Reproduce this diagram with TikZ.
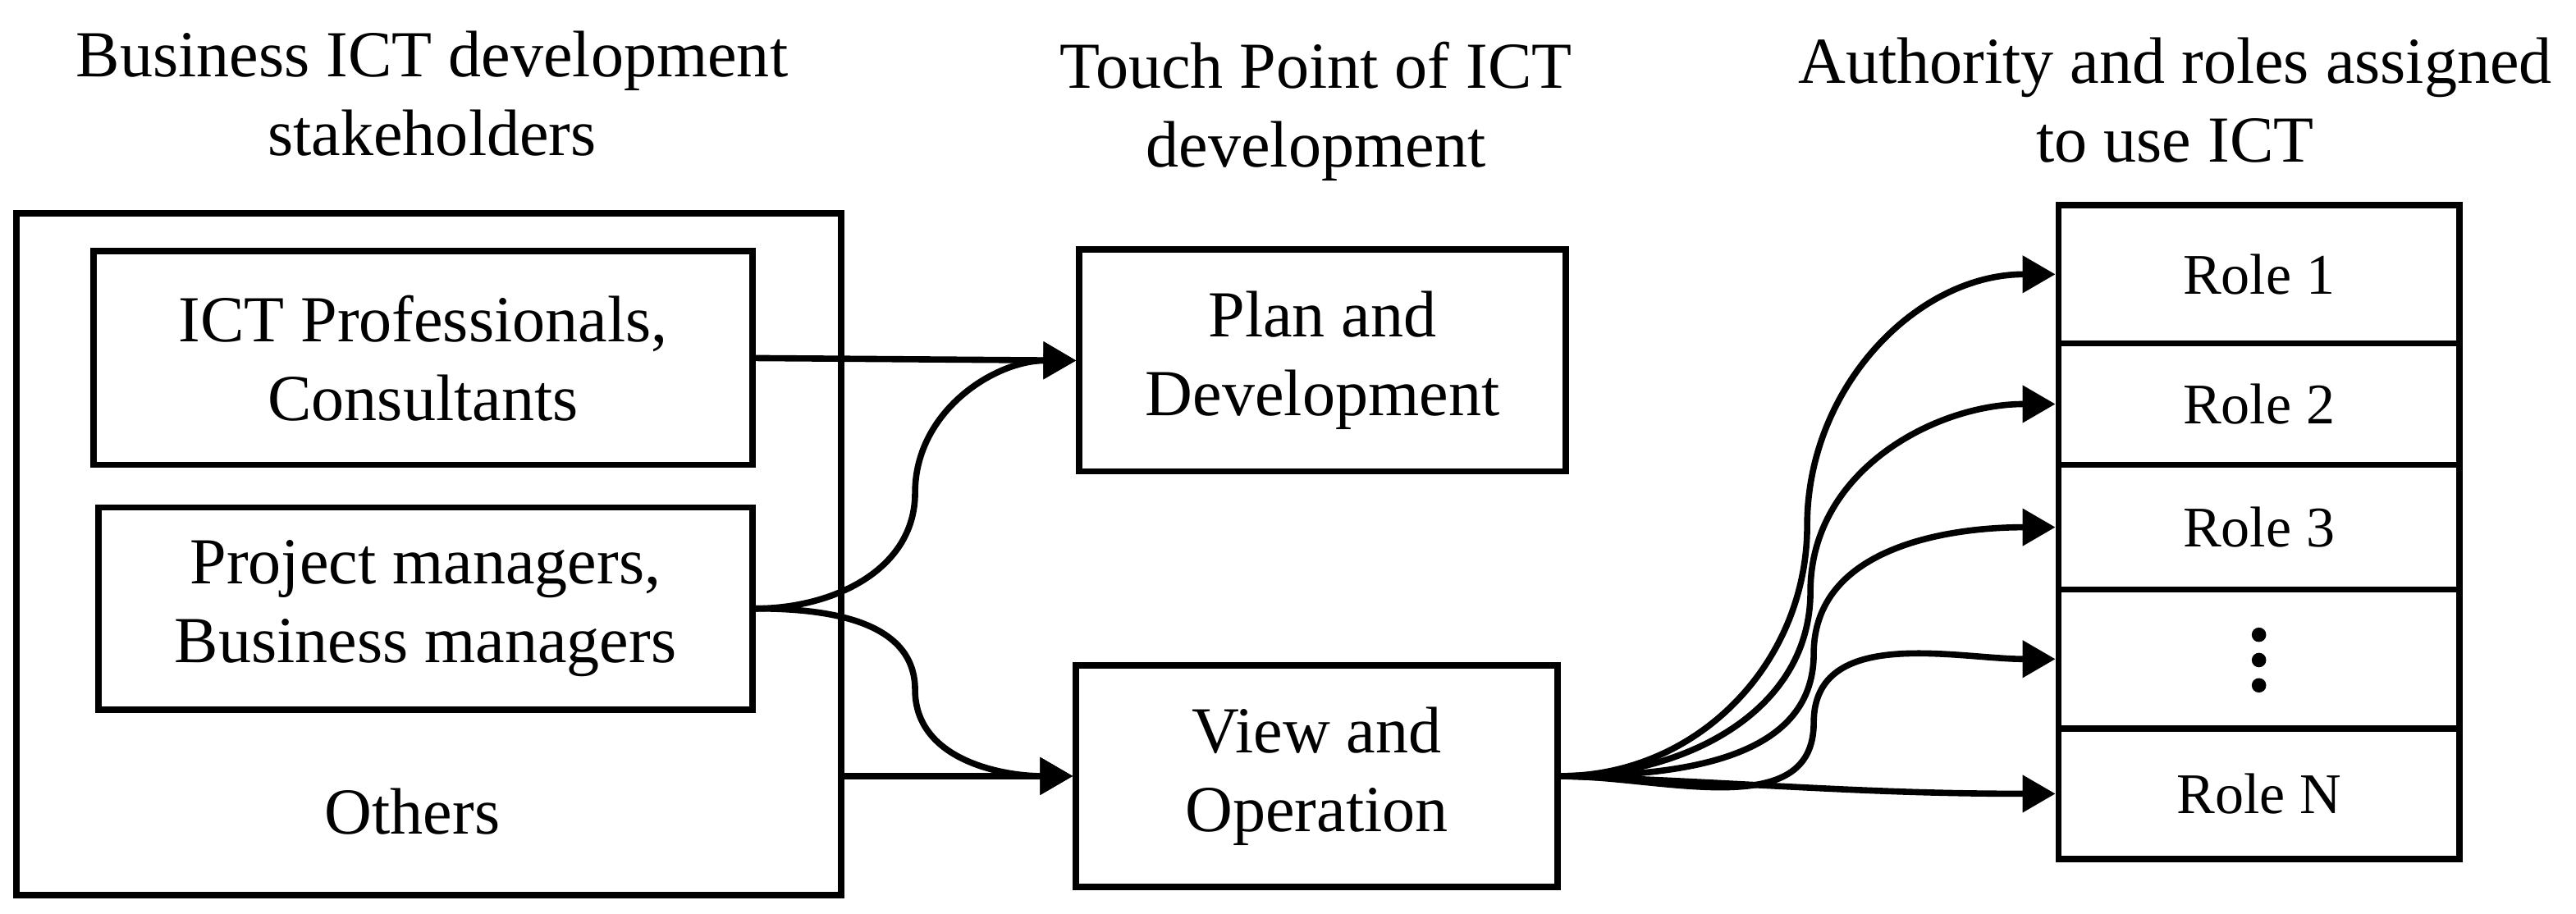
\documentclass[tikz,border=0pt]{standalone}
\usepackage{fontspec}
\setmainfont{Liberation Serif}
\usetikzlibrary{arrows.meta}
\begin{document}
\begin{tikzpicture}[x=0.5pt,y=0.5pt,
  txt/.style={font=\fontsize{20}{24}\selectfont, align=center, inner sep=0pt},
  box/.style={draw, line width=1.9pt, inner sep=0pt, align=center, font=\fontsize{20}{24}\selectfont},
  rolebox/.style={box, minimum width=122pt, font=\fontsize{17.5}{21}\selectfont},
  conn/.style={line width=1.9pt, -{Triangle[length=10pt,width=11pt]}}]
\useasboundingbox (0,0) rectangle (1568,-556);
% titles
\node[txt] (t1) at (263,-57) {Business ICT development\\stakeholders};
\node[txt] (t2) at (801,-68) {Touch Point of ICT\\development};
\node[txt] (t3) at (1324,-61) {Authority and roles assigned\\to use ICT};
% left group
\node[box, minimum width=251pt, minimum height=207.5pt] (outer) at (261,-337.5) {};
\node[box, minimum width=200.5pt, minimum height=65pt] (ict) at (257.5,-218) {ICT Professionals,\\Consultants};
\node[box, minimum width=199pt, minimum height=61.5pt] (pm) at (259,-370.5) {Project managers,\\Business managers};
\node[txt] (others) at (251,-494) {Others};
% middle
\node[box, minimum width=148pt, minimum height=67.5pt] (plan) at (805,-219.5) {Plan and\\Development};
\node[box, minimum width=146.5pt, minimum height=67.5pt] (view) at (801.5,-472.5) {View and\\Operation};
% roles
\node[rolebox, minimum height=42pt] (r1) at (1375,-167) {Role 1};
\node[rolebox, minimum height=37pt] (r2) at (1375,-246) {Role 2};
\node[rolebox, minimum height=38pt] (r3) at (1375,-321) {Role 3};
\node[rolebox, minimum height=42.25pt] (r4) at (1375,-401.25) {};
\node[rolebox, minimum height=39.75pt] (r5) at (1375,-483.25) {Role N};
\fill ([yshift=7.4pt]r4.center) circle[radius=2.2pt];
\fill ([yshift=-0.3pt]r4.center) circle[radius=2.2pt];
\fill ([yshift=-8pt]r4.center) circle[radius=2.2pt];
% connectors
\draw[conn] (ict.east) -- (plan.west);
\draw[conn] (pm.east) to[out=0,in=-90] (557,-300) to[out=90,in=180] (plan.west);
\draw[conn] (pm.east) to[out=0,in=90] (557,-420) to[out=-90,in=180] (view.west);
\draw[conn] (view.west -| outer.east) -- (view.west);
\draw[conn] (view.east) to[out=0,in=-90] (1100,-320) to[out=90,in=180] (r1.west);
\draw[conn] (view.east) to[out=0,in=-90] (1102,-360) to[out=90,in=180] (r2.west);
\draw[conn] (view.east) to[out=0,in=-90] (1104,-398) to[out=90,in=180] (r3.west);
\draw[conn] (view.east) to[out=0,in=-90] (1104,-440) to[out=90,in=180] (r4.west);
\draw[conn] (view.east) to[out=-2,in=180] (r5.west);
\end{tikzpicture}
\end{document}
